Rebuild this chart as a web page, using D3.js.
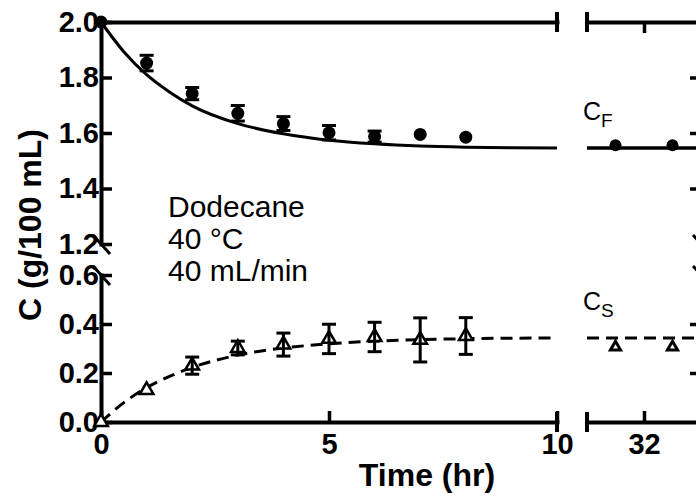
<!DOCTYPE html>
<html>
<head>
<meta charset="utf-8">
<script src="https://cdn.jsdelivr.net/npm/d3@7"></script>
<style>
body { margin: 0; background: #fff; }
svg { display: block; font-family: "Liberation Sans", Arial, sans-serif; }
</style>
</head>
<body>
<svg width="696" height="496"></svg>
<script>
// measured concentrations (g/100 mL) against time (hr)
var timeObs = [0, 1, 2, 3, 4, 5, 6, 7, 8];
var cfObs = [2.0, 1.852, 1.742, 1.671, 1.634, 1.601, 1.587, 1.595, 1.585];
var cfErr = [0, 0.028, 0.022, 0.028, 0.025, 0.026, 0.02, 0, 0];
var csObs = [0, 0.13, 0.23, 0.302, 0.316, 0.339, 0.347, 0.335, 0.351];
var csErr = [0, 0, 0.035, 0.028, 0.047, 0.06, 0.06, 0.09, 0.075];

// model curves
var timeFit = [0, 0.5, 1, 1.5, 2, 3, 4, 5, 6, 7, 8, 9, 10];
var cfFit = [2.0, 1.893, 1.81, 1.748, 1.698, 1.634, 1.597, 1.574, 1.561, 1.553, 1.549, 1.547, 1.546];
var csFit = [0, 0.079, 0.14, 0.186, 0.223, 0.273, 0.302, 0.319, 0.33, 0.336, 0.34, 0.342, 0.343];

// late samples (right panel)
var timeLate = [31, 33];
var cfLate = [1.556, 1.556];
var csLate = [0.306, 0.306];
var timeLateFit = [30, 34];
var cfLateFit = [1.546, 1.546];
var csLateFit = [0.343, 0.343];

var xTicksLeft = [0, 5, 10];
var xTicksRight = [32];
var yTicksHi = [1.2, 1.4, 1.6, 1.8, 2.0];
var yTicksLo = [0, 0.2, 0.4, 0.6];

var svg = d3.select('svg');

var xL = d3.scaleLinear().domain([0, 10]).range([101, 557]);
var xR = d3.scaleLinear().domain([30, 34]).range([587, 701]);
var yHi = d3.scaleLinear().domain([1.2, 2.0]).range([244, 22]);
var yLo = d3.scaleLinear().domain([0, 0.6]).range([422, 275]);

function styleAxis(g, size) {
    g.select('.domain').attr('stroke-width', 4).attr('stroke-linecap', 'square');
    g.selectAll('.tick line').attr('stroke-width', 3.5);
    g.selectAll('.tick text')
        .attr('font-family', '"Liberation Sans", Arial, sans-serif')
        .attr('font-size', size || 29)
        .attr('font-weight', 'bold')
        .attr('fill', '#000');
}

var fmt = d3.format('.1f');

// left y axes (upper and lower segments)
svg.append('g').attr('transform', 'translate(101,0)')
    .call(d3.axisLeft(yHi).tickValues(yTicksHi).tickSizeInner(-11).tickSizeOuter(0).tickPadding(2).tickFormat(fmt))
    .call(styleAxis);
svg.append('g').attr('transform', 'translate(101,0)')
    .call(d3.axisLeft(yLo).tickValues(yTicksLo).tickSizeInner(-11).tickSizeOuter(0).tickPadding(2).tickFormat(fmt))
    .call(styleAxis);

// right y axes (mostly off the edge)
svg.append('g').attr('transform', 'translate(701,0)')
    .call(d3.axisRight(yHi).tickValues([1.4, 1.6, 1.8]).tickSizeInner(-11).tickSizeOuter(0).tickFormat(''))
    .call(styleAxis);
svg.append('g').attr('transform', 'translate(701,0)')
    .call(d3.axisRight(yLo).tickValues([0.2, 0.4]).tickSizeInner(-11).tickSizeOuter(0).tickFormat(''))
    .call(styleAxis);

// bottom x axes
svg.append('g').attr('transform', 'translate(0,422)')
    .call(d3.axisBottom(xL).tickValues(xTicksLeft).tickSizeInner(-11).tickSizeOuter(0).tickPadding(11).tickFormat(d3.format('d')))
    .call(styleAxis);
svg.append('g').attr('transform', 'translate(0,422)')
    .call(d3.axisBottom(xR).tickValues(xTicksRight).tickSizeInner(-11).tickSizeOuter(0).tickPadding(11).tickFormat(d3.format('d')))
    .call(styleAxis);

// top lines
svg.append('g').attr('transform', 'translate(0,22)')
    .call(d3.axisTop(xL).tickValues([]).tickSizeOuter(0))
    .call(styleAxis);
svg.append('g').attr('transform', 'translate(0,22)')
    .call(d3.axisTop(xR).tickValues(xTicksRight).tickSizeInner(-11).tickSizeOuter(0).tickFormat(''))
    .call(styleAxis);

// x break caps
var caps = svg.append('g').attr('stroke', '#000').attr('stroke-width', 4);
[22, 422].forEach(function (yy) {
    [xL(10), xR(30)].forEach(function (xx) {
        caps.append('line').attr('x1', xx).attr('x2', xx).attr('y1', yy - 10).attr('y2', yy + 10);
    });
});

// y break marks
var brk = svg.append('g').attr('stroke', '#000').attr('stroke-width', 3);
[101, 701].forEach(function (xx) {
    [yHi(1.2), yLo(0.6)].forEach(function (yy) {
        brk.append('line').attr('x1', xx - 8).attr('y1', yy - 9).attr('x2', xx + 9).attr('y2', yy + 10);
    });
});

// fitted curves
var lineHi = d3.line().x(function (d) { return d[0]; }).y(function (d) { return d[1]; }).curve(d3.curveMonotoneX);

function pts(xs, ys, xsc, ysc) {
    return xs.map(function (t, i) { return [xsc(t), ysc(ys[i])]; });
}

svg.append('path').attr('d', lineHi(pts(timeFit, cfFit, xL, yHi)))
    .attr('fill', 'none').attr('stroke', '#000').attr('stroke-width', 3);
svg.append('path').attr('d', lineHi(pts(timeLateFit, cfLateFit, xR, yHi)))
    .attr('fill', 'none').attr('stroke', '#000').attr('stroke-width', 3.5);
svg.append('path').attr('d', lineHi(pts(timeFit, csFit, xL, yLo)))
    .attr('fill', 'none').attr('stroke', '#000').attr('stroke-width', 3).attr('stroke-dasharray', '12,7');
svg.append('path').attr('d', lineHi(pts(timeLateFit, csLateFit, xR, yLo)))
    .attr('fill', 'none').attr('stroke', '#000').attr('stroke-width', 3).attr('stroke-dasharray', '12,7');

// markers
var tri = d3.symbol().type(d3.symbolTriangle);

svg.append('g').selectAll('path').data(timeObs).enter().append('path')
    .attr('d', tri.size(80)())
    .attr('transform', function (d, i) { return 'translate(' + xL(d) + ',' + yLo(csObs[i]) + ')'; })
    .attr('fill', '#fff').attr('stroke', '#000').attr('stroke-width', 2.5);
svg.append('g').selectAll('path').data(timeLate).enter().append('path')
    .attr('d', tri.size(45)())
    .attr('transform', function (d, i) { return 'translate(' + xR(d) + ',' + yLo(csLate[i]) + ')'; })
    .attr('fill', '#fff').attr('stroke', '#000').attr('stroke-width', 3);

svg.append('g').selectAll('circle').data(timeObs).enter().append('circle')
    .attr('cx', function (d) { return xL(d); })
    .attr('cy', function (d, i) { return yHi(cfObs[i]); })
    .attr('r', 6.5).attr('fill', '#000');
svg.append('g').selectAll('circle').data(timeLate).enter().append('circle')
    .attr('cx', function (d) { return xR(d); })
    .attr('cy', function (d, i) { return yHi(cfLate[i]); })
    .attr('r', 6).attr('fill', '#000');

// error bars
function errBars(vals, errs, ysc) {
    var g = svg.append('g').attr('stroke', '#000').attr('stroke-width', 3);
    timeObs.forEach(function (t, i) {
        if (!errs[i]) return;
        var x = xL(t), y1 = ysc(vals[i] + errs[i]), y2 = ysc(vals[i] - errs[i]);
        g.append('line').attr('x1', x).attr('x2', x).attr('y1', y1).attr('y2', y2);
        g.append('line').attr('x1', x - 7).attr('x2', x + 7).attr('y1', y1).attr('y2', y1);
        g.append('line').attr('x1', x - 7).attr('x2', x + 7).attr('y1', y2).attr('y2', y2);
    });
}
errBars(cfObs, cfErr, yHi);
errBars(csObs, csErr, yLo);

// titles
svg.append('text')
    .attr('transform', 'translate(41,225) rotate(-90)')
    .attr('text-anchor', 'middle')
    .attr('font-size', 32).attr('font-weight', 'bold')
    .text('C (g/100 mL)');
svg.append('text')
    .attr('x', 427).attr('y', 486)
    .attr('text-anchor', 'middle')
    .attr('font-size', 32).attr('font-weight', 'bold')
    .text('Time (hr)');

// condition note
var note = ['Dodecane', '40 °C', '40 mL/min'];
svg.append('g').selectAll('text').data(note).enter().append('text')
    .attr('x', 168).attr('y', function (d, i) { return 217 + i * 32; })
    .attr('font-size', 30)
    .text(function (d) { return d; });

// series labels
function subLabel(x, y, main, sub) {
    var t = svg.append('text').attr('x', x).attr('y', y).attr('font-size', 25);
    t.append('tspan').text(main);
    t.append('tspan').attr('dy', 7).attr('font-size', 19).text(sub);
}
subLabel(583, 120, 'C', 'F');
subLabel(583, 310, 'C', 'S');
</script>
</body>
</html>
